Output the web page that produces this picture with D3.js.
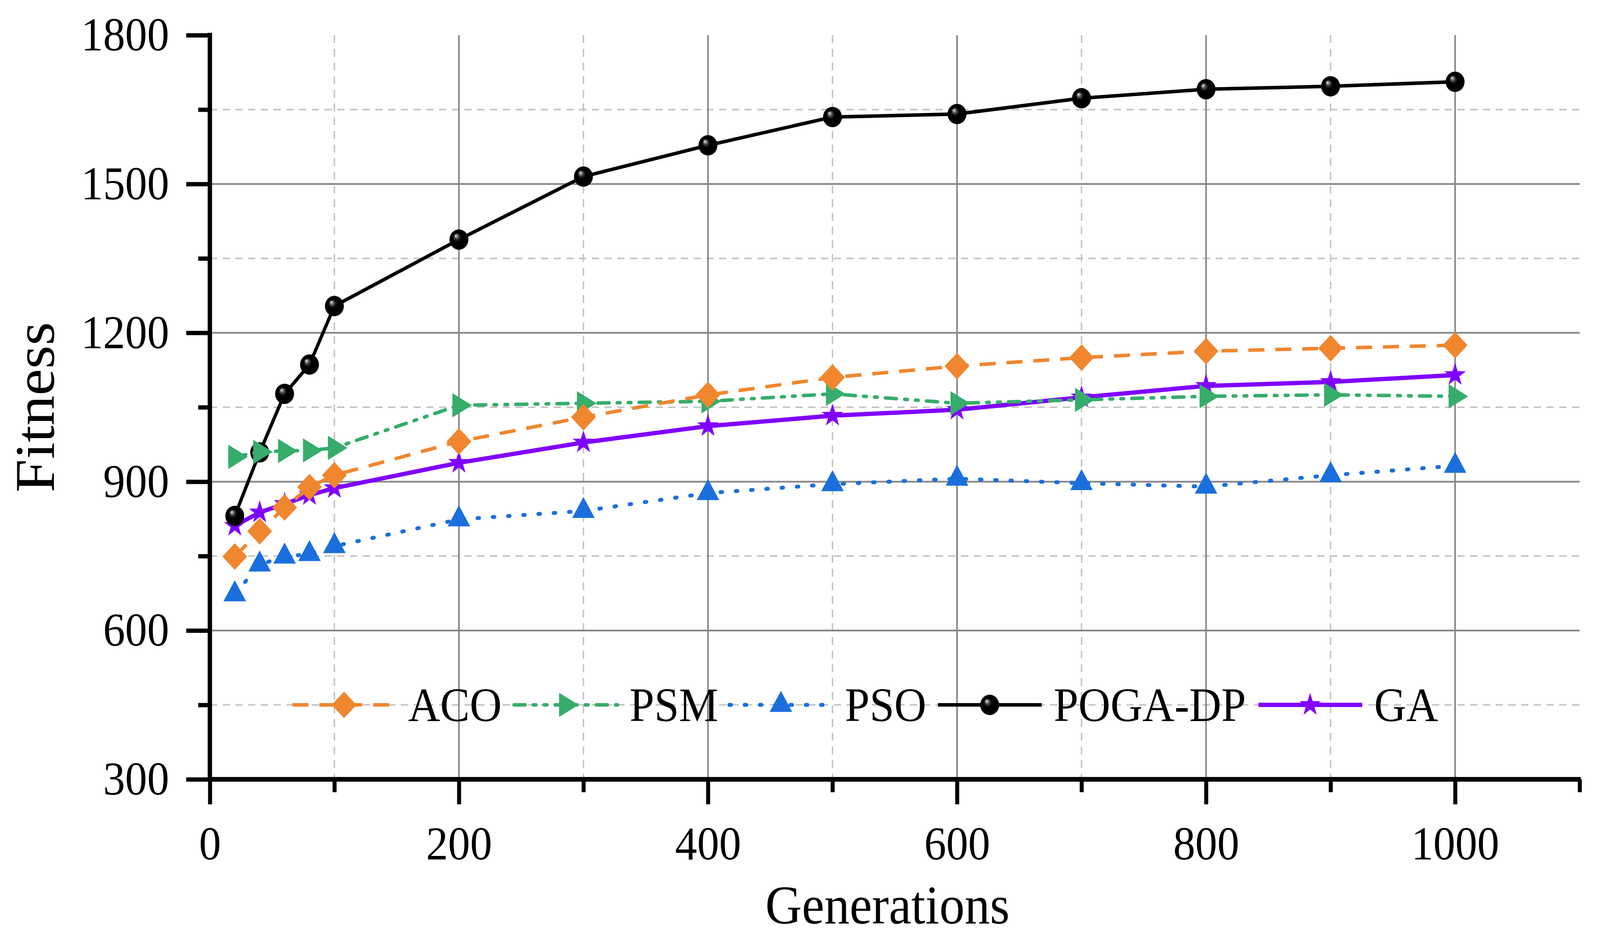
<!DOCTYPE html>
<html><head><meta charset="utf-8">
<script src="https://cdn.jsdelivr.net/npm/d3@7"></script>
<style>html,body{margin:0;padding:0;background:#fff;width:100%;height:100%;overflow:hidden;} svg{display:block;width:100vw;height:100vh;}</style>
</head><body><svg id="chart" viewBox="0 0 4399 2400" preserveAspectRatio="none"></svg>
<script>
// ---------- data ----------
const generations = [20, 40, 60, 80, 100, 200, 300, 400, 500, 600, 700, 800, 900, 1000];
const aco    = [749, 800, 848, 889, 913, 981, 1030, 1075, 1110, 1133, 1150, 1163, 1169, 1175];
const psm    = [950, 960, 962, 963, 968, 1054, 1058, 1062, 1077, 1058, 1065, 1072, 1075, 1072];
const pso    = [673, 733, 749, 754, 770, 824, 841, 877, 895, 906, 897, 890, 913, 932];
const pogaDP = [831, 959, 1077, 1136, 1254, 1388, 1515, 1578, 1635, 1641, 1673, 1691, 1697, 1706];
const ga     = [811, 838, 855, 873, 887, 938, 979, 1012, 1033, 1045, 1070, 1093, 1101, 1115];
const seriesNames = ["ACO", "PSM", "PSO", "POGA-DP", "GA"];
const xMajorTicks = [0, 200, 400, 600, 800, 1000];
const xMinorTicks = [100, 300, 500, 700, 900, 1100];
const yMajorTicks = [300, 600, 900, 1200, 1500, 1800];
const yMinorTicks = [450, 750, 1050, 1350, 1650];
const xTitle = "Generations";
const yTitle = "Fitness";

// ---------- layout ----------
const FONT = "'Liberation Serif','Times New Roman',Times,serif";
const legendStarts = [804, 1413, 2005, 2579, 3460];   // pixel x of each legend sample line
const svg = d3.select('#chart');
const x = d3.scaleLinear().domain([0, 1100]).range([577, 4343]);
const y = d3.scaleLinear().domain([300, 1800]).range([1994, 90]);

const defs = svg.append('defs');
const grad = defs.append('radialGradient').attr('id', 'ball')
  .attr('cx', '0.5').attr('cy', '0.5').attr('r', '0.5').attr('fx', '0.33').attr('fy', '0.3');
grad.append('stop').attr('offset', '0').attr('stop-color', '#ffffff');
grad.append('stop').attr('offset', '0.1').attr('stop-color', '#a0a0a0');
grad.append('stop').attr('offset', '0.28').attr('stop-color', '#303030');
grad.append('stop').attr('offset', '0.45').attr('stop-color', '#000000');
grad.append('stop').attr('offset', '1').attr('stop-color', '#000000');

// ---------- marker shapes ----------
function diamond(s) { return `M0,${-s}L${s},0L0,${s}L${-s},0Z`; }
function triUp(side) { const h = side * Math.sqrt(3) / 2; return `M0,${-2*h/3}L${side/2},${h/3}L${-side/2},${h/3}Z`; }
function triRight(side) { const h = side * Math.sqrt(3) / 2; return `M${2*h/3},0L${-h/3},${side/2}L${-h/3},${-side/2}Z`; }
function star(R, r) {
  let p = '';
  for (let i = 0; i < 10; i++) {
    const a = -Math.PI / 2 + i * Math.PI / 5;
    const rr = i % 2 === 0 ? R : r;
    p += (i ? 'L' : 'M') + (rr * Math.cos(a)).toFixed(2) + ',' + (rr * Math.sin(a)).toFixed(2);
  }
  return p + 'Z';
}

const styles = {
  "ACO":     { color: '#F0862E', width: 9,  dash: '44,30', cap: 'butt', marker: g => g.append('path').attr('d', diamond(34)).attr('fill', '#F0862E') },
  "PSM":     { color: '#36AD6A', width: 9,  dash: '31,22,8,22,8,22', cap: 'round', marker: g => g.append('path').attr('d', triRight(62)).attr('fill', '#36AD6A') },
  "PSO":     { color: '#1B6FDD', width: 10, dash: '5,37', cap: 'round', marker: g => g.append('path').attr('d', triUp(62)).attr('fill', '#1B6FDD') },
  "POGA-DP": { color: '#000000', width: 9,  dash: null, cap: 'butt', marker: g => g.append('circle').attr('r', 26).attr('fill', 'url(#ball)') },
  "GA":      { color: '#8000FF', width: 11, dash: null, cap: 'butt', marker: g => g.append('path').attr('d', star(31, 12)).attr('fill', '#8000FF') }
};
const seriesValues = { "ACO": aco, "PSM": psm, "PSO": pso, "POGA-DP": pogaDP, "GA": ga };

// ---------- grid ----------
const grid = svg.append('g');
grid.selectAll('.vmin').data(xMinorTicks.filter(v => v < 1100)).enter().append('line')
  .attr('x1', d => x(d)).attr('x2', d => x(d)).attr('y1', y(1800)).attr('y2', y(300))
  .attr('stroke', '#c4c4c4').attr('stroke-width', 4).attr('stroke-dasharray', '20,15');
grid.selectAll('.hmin').data(yMinorTicks).enter().append('line')
  .attr('y1', d => y(d)).attr('y2', d => y(d)).attr('x1', x(0)).attr('x2', x(1100))
  .attr('stroke', '#c4c4c4').attr('stroke-width', 4).attr('stroke-dasharray', '20,15');
grid.selectAll('.vmaj').data(xMajorTicks.filter(v => v > 0)).enter().append('line')
  .attr('x1', d => x(d)).attr('x2', d => x(d)).attr('y1', y(1800)).attr('y2', y(300))
  .attr('stroke', '#888888').attr('stroke-width', 4.5);
grid.selectAll('.hmaj').data(yMajorTicks.filter(v => v > 300 && v < 1800)).enter().append('line')
  .attr('y1', d => y(d)).attr('y2', d => y(d)).attr('x1', x(0)).attr('x2', x(1100))
  .attr('stroke', '#888888').attr('stroke-width', 4.5);

// ---------- series (draw order: GA, POGA-DP, PSO, PSM, ACO) ----------
const drawOrder = ["GA", "POGA-DP", "PSO", "PSM", "ACO"];
const lineGen = d3.line().x(d => x(d[0])).y(d => y(d[1]));
drawOrder.forEach(name => {
  const st = styles[name];
  const pts = generations.map((g, i) => [g, seriesValues[name][i]]);
  const g = svg.append('g');
  g.append('path').attr('d', lineGen(pts)).attr('fill', 'none')
    .attr('stroke', st.color).attr('stroke-width', st.width)
    .attr('stroke-dasharray', st.dash).attr('stroke-linecap', st.cap).attr('stroke-linejoin', 'round');
  pts.forEach(p => {
    const m = g.append('g').attr('transform', `translate(${x(p[0])},${y(p[1])})`);
    st.marker(m);
  });
});

// ---------- axes ----------
const axG = svg.append('g');
const yAxis = axG.append('g').attr('transform', `translate(${x(0)},0)`)
  .call(d3.axisLeft(y).tickValues(yMajorTicks).tickSize(65).tickPadding(47).tickSizeOuter(0).tickFormat(d3.format('d')));
const yAxisMinor = axG.append('g').attr('transform', `translate(${x(0)},0)`)
  .call(d3.axisLeft(y).tickValues(yMinorTicks).tickSize(32).tickSizeOuter(0).tickFormat(''));
const xAxis = axG.append('g').attr('transform', `translate(0,${y(300)})`)
  .call(d3.axisBottom(x).tickValues(xMajorTicks).tickSize(64).tickPadding(55).tickSizeOuter(0).tickFormat(d3.format('d')));
const xAxisMinor = axG.append('g').attr('transform', `translate(0,${y(300)})`)
  .call(d3.axisBottom(x).tickValues(xMinorTicks).tickSize(33).tickSizeOuter(0).tickFormat(''));
[yAxis, yAxisMinor, xAxis, xAxisMinor].forEach(a => {
  a.select('.domain').remove();
  a.selectAll('.tick line').attr('stroke', '#000').attr('stroke-width', 11);
  a.selectAll('.tick text').attr('fill', '#000').style('font-family', FONT).style('font-size', '121px');
});
axG.append('line').attr('x1', x(0)).attr('x2', x(0)).attr('y1', y(1800) - 6).attr('y2', y(300) + 6)
  .attr('stroke', '#000').attr('stroke-width', 12);
axG.append('line').attr('x1', x(0) - 6).attr('x2', x(1100) + 3).attr('y1', y(300)).attr('y2', y(300))
  .attr('stroke', '#000').attr('stroke-width', 12);

// titles
svg.append('text').attr('x', (x(0) + x(1100)) / 2 - 20).attr('y', 2363)
  .attr('text-anchor', 'middle').style('font-family', FONT).style('font-size', '139px').text(xTitle);
svg.append('text').attr('transform', `translate(148,${(y(300) + y(1800)) / 2}) rotate(-90)`)
  .attr('text-anchor', 'middle').style('font-family', FONT).style('font-size', '154px').text(yTitle);

// ---------- legend ----------
const legY = y(450);
const leg = svg.append('g');
seriesNames.forEach((name, i) => {
  const st = styles[name];
  const lx = legendStarts[i];
  const g = leg.append('g');
  g.append('line').attr('x1', lx).attr('x2', lx + 285).attr('y1', legY).attr('y2', legY)
    .attr('stroke', st.color).attr('stroke-width', st.width)
    .attr('stroke-dasharray', st.dash).attr('stroke-linecap', st.cap);
  st.marker(g.append('g').attr('transform', `translate(${lx + 142},${legY})`));
  g.append('text').attr('x', lx + 318).attr('y', legY + 41)
    .style('font-family', FONT).style('font-size', '122px').text(name);
});
</script></body></html>
